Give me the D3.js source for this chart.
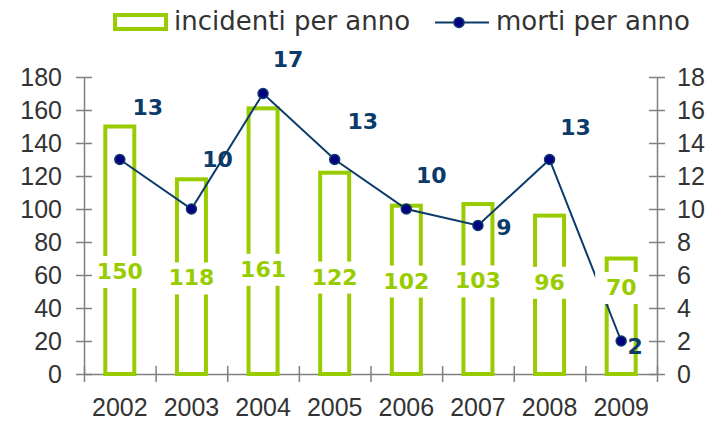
<!DOCTYPE html>
<html>
<head>
<meta charset="utf-8">
<script src="https://cdn.jsdelivr.net/npm/d3@7"></script>
<style>
  body { margin: 0; background: #fff; }
  svg { display: block; font-family: "DejaVu Sans", Verdana, sans-serif; }
  .axis text { fill: #333; font-size: 25px; }
  .axis line, .axis path { stroke: #808080; stroke-width: 1.5; }
</style>
</head>
<body>
<svg id="chart" width="708" height="421"></svg>
<script>
// chart values
var years = ["2002", "2003", "2004", "2005", "2006", "2007", "2008", "2009"];
var incidenti = [150, 118, 161, 122, 102, 103, 96, 70];
var morti = [13, 10, 17, 13, 10, 9, 13, 2];
var leftTicks = [0, 20, 40, 60, 80, 100, 120, 140, 160, 180];
var rightTicks = [0, 2, 4, 6, 8, 10, 12, 14, 16, 18];

// where the line labels sit around their dot (dx, dy)
var lineLabelOffsets = [[28, -52], [26, -50], [25, -34], [28, -38], [25, -34], [26, 2], [26, -32], [14, 5]];

var green = "#99cc00", navy = "#0b3b6b";

var svg = d3.select("#chart");

var x = d3.scaleBand().domain(years).range([84, 657]);
var yL = d3.scaleLinear().domain([0, 180]).range([374, 77]);
var yR = d3.scaleLinear().domain([0, 18]).range([374, 77]);

// left axis, ticks cross the line
var gl = svg.append("g")
    .attr("class", "axis")
    .attr("transform", "translate(84,0)")
    .call(d3.axisLeft(yL).tickValues(leftTicks).tickSize(8).tickSizeOuter(0).tickPadding(14));
gl.selectAll(".tick line").attr("x1", 8);

// right axis
var gr = svg.append("g")
    .attr("class", "axis")
    .attr("transform", "translate(657,0)")
    .call(d3.axisRight(yR).tickValues(rightTicks).tickSize(8).tickSizeOuter(0).tickPadding(12));
gr.selectAll(".tick line").attr("x1", -8);

// bottom axis: category boundaries as ticks, years as labels
var bounds = d3.scaleLinear().domain([0, years.length]).range(x.range());
var gb = svg.append("g")
    .attr("class", "axis")
    .attr("transform", "translate(0," + yL(0) + ")")
    .call(d3.axisBottom(bounds).ticks(years.length).tickFormat("").tickSize(8).tickSizeOuter(0));
gb.selectAll(".tick line").attr("y1", -8);

svg.append("g")
    .attr("class", "axis")
    .attr("transform", "translate(0," + yL(0) + ")")
    .call(d3.axisBottom(x).tickSize(0).tickPadding(24))
    .call(g => g.select(".domain").remove());

// bars (outlined)
var barW = 29;
svg.selectAll(".bar")
  .data(incidenti)
  .enter()
  .append("rect")
    .attr("class", "bar")
    .attr("x", (d, i) => x(years[i]) + (x.bandwidth() - barW) / 2)
    .attr("y", d => yL(d))
    .attr("width", barW)
    .attr("height", d => yL(0) - yL(d))
    .attr("fill", "none")
    .attr("stroke", green)
    .attr("stroke-width", 4);

// line for morti
var line = d3.line()
    .x((d, i) => x(years[i]) + x.bandwidth() / 2)
    .y(d => yR(d));

svg.append("path")
    .datum(morti)
    .attr("d", line)
    .attr("fill", "none")
    .attr("stroke", navy)
    .attr("stroke-width", 2);

// bar labels with a white box that hides the bar sides (and the line behind)
var barLabelY = d => yL(0) - (73 + 0.2 * d);
var bl = svg.selectAll(".barlabel")
  .data(incidenti)
  .enter()
  .append("g")
    .attr("class", "barlabel")
    .attr("transform", (d, i) => "translate(" + (x(years[i]) + x.bandwidth() / 2) + "," + barLabelY(d) + ")");
bl.append("rect")
    .attr("x", -26).attr("y", -15)
    .attr("width", 52).attr("height", 32)
    .attr("fill", "#fff");
bl.append("text")
    .attr("text-anchor", "middle")
    .attr("dy", "0.36em")
    .attr("font-size", "22px")
    .attr("font-weight", "bold")
    .attr("fill", green)
    .text(d => d);

svg.selectAll(".dot")
  .data(morti)
  .enter()
  .append("circle")
    .attr("class", "dot")
    .attr("cx", (d, i) => x(years[i]) + x.bandwidth() / 2)
    .attr("cy", d => yR(d))
    .attr("r", 5)
    .attr("fill", "#000080")
    .attr("stroke", navy)
    .attr("stroke-width", 1.5);

svg.selectAll(".linelabel")
  .data(morti)
  .enter()
  .append("text")
    .attr("class", "linelabel")
    .attr("x", (d, i) => x(years[i]) + x.bandwidth() / 2 + lineLabelOffsets[i][0])
    .attr("y", (d, i) => yR(d) + lineLabelOffsets[i][1])
    .attr("dy", "0.36em")
    .attr("text-anchor", "middle")
    .attr("font-size", "22px")
    .attr("font-weight", "bold")
    .attr("fill", navy)
    .text(d => d);

// legend
var legend = svg.append("g").attr("class", "legend");
legend.append("rect")
    .attr("x", 115).attr("y", 15)
    .attr("width", 51).attr("height", 14)
    .attr("fill", "none")
    .attr("stroke", green)
    .attr("stroke-width", 4);
legend.append("text")
    .attr("x", 174).attr("y", 30)
    .attr("font-size", "26px")
    .attr("fill", "#333")
    .text("incidenti per anno");
legend.append("line")
    .attr("x1", 435).attr("x2", 489)
    .attr("y1", 22.5).attr("y2", 22.5)
    .attr("stroke", navy)
    .attr("stroke-width", 2);
legend.append("circle")
    .attr("cx", 459).attr("cy", 22.5).attr("r", 5)
    .attr("fill", "#000080")
    .attr("stroke", navy)
    .attr("stroke-width", 1.5);
legend.append("text")
    .attr("x", 496).attr("y", 30)
    .attr("font-size", "26px")
    .attr("fill", "#333")
    .text("morti per anno");
</script>
</body>
</html>
